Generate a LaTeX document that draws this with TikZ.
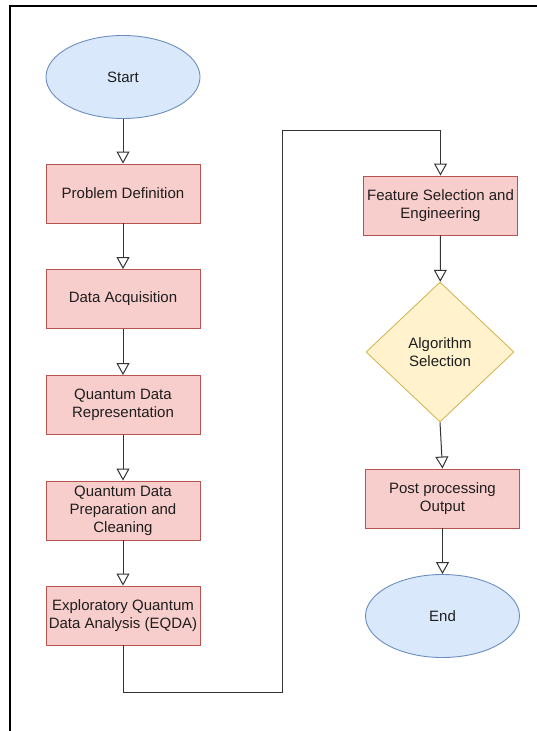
\documentclass[tikz,border=0pt]{standalone}
\usepackage{fontspec}
\setmainfont{Liberation Sans}
\usetikzlibrary{shapes.geometric,arrows.meta}
\definecolor{redfill}{HTML}{F8CECC}
\definecolor{redline}{HTML}{B85450}
\definecolor{bluefill}{HTML}{DAE8FC}
\definecolor{blueline}{HTML}{6C8EBF}
\definecolor{yelfill}{HTML}{FFF2CC}
\definecolor{yelline}{HTML}{D6B656}
\definecolor{txt}{HTML}{1E1E1E}
\definecolor{conn}{HTML}{333333}
\tikzset{
  base/.style={font=\fontsize{15}{18}\selectfont, text=txt, align=center, inner sep=0pt, line width=0.9pt},
  procbox/.style={base, rectangle, draw=redline, fill=redfill, minimum width=154pt, minimum height=59pt},
  term/.style={base, ellipse, draw=blueline, fill=bluefill, minimum width=154pt, minimum height=83pt},
  decide/.style={base, diamond, draw=yelline, fill=yelfill, minimum width=148pt, minimum height=140pt, aspect=1.06},
  arr/.style={draw=conn, line width=1pt, -{Triangle[open, length=12pt, width=13pt, fill=white]}},
  frame/.style={draw=black, line width=1.2pt}
}
\begin{document}
\begin{tikzpicture}[x=1pt, y=-1pt]
\useasboundingbox (0,0) rectangle (537,731);
\coordinate (f0) at (10,6);
\coordinate (f1) at (537,6);
\coordinate (f2) at (10,731);
\draw[frame] (f1) -- (f0) -- (f2);

\node[term] (start) at (123,77) {Start};
\node[procbox] (pd) at (123,193.5) {Problem Definition};
\node[procbox] (da) at (123,299) {Data Acquisition};
\node[procbox] (qdr) at (123,405) {Quantum Data\\Representation};
\node[procbox] (qdp) at (123,510.5) {Quantum Data\\Preparation and\\Cleaning};
\node[procbox] (eqda) at (123,615.5) {Exploratory Quantum\\Data Analysis (EQDA)};

\node[procbox] (fs) at (440.5,205.5) {Feature Selection and\\Engineering};
\node[decide] (alg) at (440,352) {Algorithm\\Selection};
\node[procbox] (pp) at (442.5,498.5) {Post processing\\Output};
\node[term] (end) at (442.5,616) {End};

\coordinate (b1) at (282,692);
\coordinate (b2) at (282,130);

\draw[arr] (start) -- (pd);
\draw[arr] (pd) -- (da);
\draw[arr] (da) -- (qdr);
\draw[arr] (qdr) -- (qdp);
\draw[arr] (qdp) -- (eqda);
\draw[arr] (eqda.south) |- (b1) -- (b2) -| (fs.north);
\draw[arr] (fs) -- (alg);
\draw[arr] (alg.south) -- (pp.north);
\draw[arr] (pp) -- (end);
\end{tikzpicture}
\end{document}
